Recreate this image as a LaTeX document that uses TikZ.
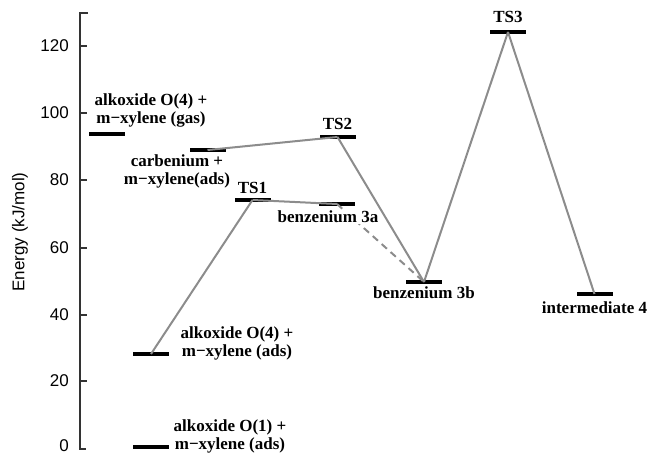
\documentclass[tikz,border=0pt]{standalone}
\usepackage{fontspec}
\setmainfont{Liberation Serif}
\newfontfamily\axisfont{Liberation Sans}
\begin{document}
\begin{tikzpicture}[x=1pt,y=-1pt,
  level/.style={fill=black,draw=none,inner sep=0pt,minimum width=36pt,minimum height=4pt},
  conn/.style={draw=black!45,line width=2pt},
  axisline/.style={draw=black!80,line width=1.2pt},
  lab/.style={font=\fontsize{17}{18}\selectfont\bfseries,inner sep=1pt,align=center},
  ticklab/.style={font=\axisfont\fontsize{17}{20}\selectfont,anchor=east,inner sep=0pt}]
\useasboundingbox (0,0) rectangle (649,454);
% axis
\draw[axisline] (88,13) -- (80,13) -- (80,449) -- (86,449);
\foreach \e/\yy in {20/381,40/315,60/248,80/180,100/113,120/46}{
  \draw[axisline] (80,\yy) -- (87,\yy);
  \node[ticklab] (t\e) at (69,\yy) {\e};
}
\node[ticklab] (t0) at (69,446) {0};
\node[font=\axisfont\fontsize{17}{20}\selectfont,rotate=90,inner sep=0pt] (ylab) at (20,232) {Energy (kJ/mol)};
% levels
\node[level] (gas) at (106.5,134) {};
\node[level] (carb) at (207.5,150) {};
\node[level] (ts2) at (337.5,137) {};
\node[level] (ts1) at (252.5,200) {};
\node[level] (b3a) at (337,204) {};
\node[level] (ts3) at (508,32) {};
\node[level] (b3b) at (424,282) {};
\node[level] (int4) at (594.5,294) {};
\node[level] (o4) at (151,354) {};
\node[level] (o1) at (151,447) {};
% connectors
\draw[conn] (o4.center) -- (ts1.center);
\draw[conn] (ts1.center) -- (b3a.center);
\draw[conn,dash pattern=on 7pt off 5pt] (b3a.center) -- (b3b.center);
\draw[conn] (carb.center) -- (ts2.center);
\draw[conn] (ts2.center) -- (b3b.center);
\draw[conn] (b3b.center) -- (ts3.center);
\draw[conn] (ts3.center) -- (int4.center);
% labels
\node[lab] (lgas) at (151,110) {alkoxide O(4) +\\m−xylene (gas)};
\node[lab] (lcarb) at (177,171) {carbenium +\\m−xylene(ads)};
\node[lab] (lts2) at (337.5,124) {TS2};
\node[lab] (lts1) at (252.5,188) {TS1};
\node[lab,fill=white] (lb3a) at (328,217) {benzenium 3a};
\node[lab] (lts3) at (508,17) {TS3};
\node[lab] (lb3b) at (424,293) {benzenium 3b};
\node[lab] (lint4) at (594.5,308) {intermediate 4};
\node[lab] (lo4) at (237,343) {alkoxide O(4) +\\m−xylene (ads)};
\node[lab] (lo1) at (230,436) {alkoxide O(1) +\\m−xylene (ads)};
\end{tikzpicture}
\end{document}
